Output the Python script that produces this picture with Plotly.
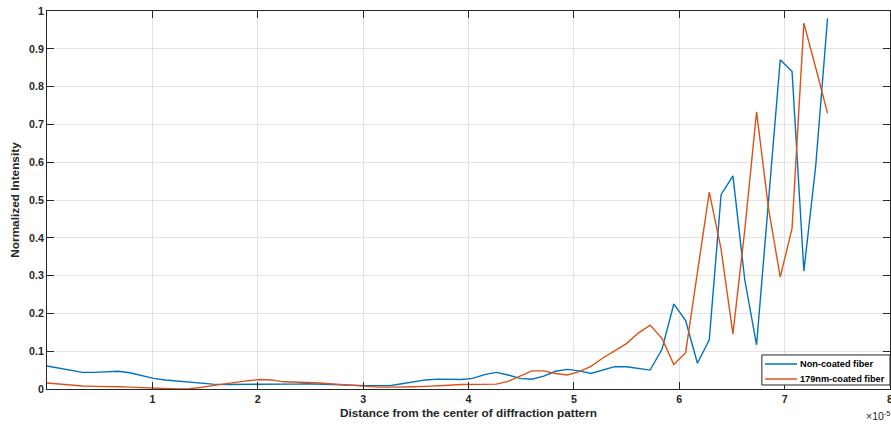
import plotly.graph_objects as go

# Distance from the centre of the diffraction pattern, micrometres
distance_um = [
    0.000, 1.122, 2.245, 3.367, 4.489, 5.612, 6.734, 7.856, 8.978, 10.101,
    11.223, 12.345, 13.468, 14.590, 15.712, 16.835, 17.957, 19.079, 20.201, 21.324,
    22.446, 23.568, 24.691, 25.813, 26.935, 28.058, 29.180, 30.302, 31.424, 32.547,
    33.669, 34.791, 35.914, 37.036, 38.158, 39.281, 40.403, 41.525, 42.647, 43.770,
    44.892, 46.014, 47.137, 48.259, 49.381, 50.504, 51.626, 52.748, 53.870, 54.993,
    56.115, 57.237, 58.360, 59.482, 60.604, 61.727, 62.849, 63.971, 65.093, 66.216,
    67.338, 68.460, 69.583, 70.705, 71.827, 72.950, 74.072,
]

# Normalized intensity, bare fibre
non_coated = [
    0.061, 0.056, 0.050, 0.044, 0.044, 0.046, 0.047, 0.043, 0.035, 0.028,
    0.024, 0.021, 0.019, 0.016, 0.013, 0.012, 0.012, 0.012, 0.012, 0.012,
    0.011, 0.013, 0.014, 0.013, 0.011, 0.010, 0.009, 0.009, 0.009, 0.009,
    0.014, 0.020, 0.024, 0.026, 0.026, 0.025, 0.028, 0.038, 0.044, 0.037,
    0.028, 0.026, 0.034, 0.047, 0.052, 0.048, 0.041, 0.049, 0.059, 0.059,
    0.054, 0.050, 0.105, 0.225, 0.181, 0.068, 0.130, 0.514, 0.564, 0.289,
    0.117, 0.500, 0.871, 0.840, 0.312, 0.590, 0.980,
]

# Normalized intensity, 179 nm coated fibre
coated_179nm = [
    0.016, 0.013, 0.010, 0.008, 0.007, 0.007, 0.006, 0.005, 0.004, 0.002,
    0.001, 0.000, 0.001, 0.004, 0.009, 0.014, 0.018, 0.022, 0.025, 0.024,
    0.019, 0.017, 0.017, 0.016, 0.014, 0.012, 0.009, 0.006, 0.005, 0.005,
    0.005, 0.006, 0.007, 0.008, 0.010, 0.012, 0.012, 0.012, 0.013, 0.020,
    0.035, 0.048, 0.048, 0.041, 0.037, 0.046, 0.060, 0.082, 0.101, 0.120,
    0.148, 0.169, 0.134, 0.065, 0.096, 0.310, 0.521, 0.370, 0.146, 0.420,
    0.733, 0.480, 0.296, 0.425, 0.968, 0.850, 0.730,
]

series_names = ["Non-coated fiber", "179nm-coated fiber"]
series_colors = ["#0072BD", "#D95319"]

x_tick_values = [1e-5, 2e-5, 3e-5, 4e-5, 5e-5, 6e-5, 7e-5, 8e-5]
x_tick_labels = ["1", "2", "3", "4", "5", "6", "7", "8"]
y_tick_values = [0, 0.1, 0.2, 0.3, 0.4, 0.5, 0.6, 0.7, 0.8, 0.9, 1]
y_tick_labels = ["0", "0.1", "0.2", "0.3", "0.4", "0.5", "0.6", "0.7", "0.8", "0.9", "1"]

distance_m = [d * 1e-6 for d in distance_um]

FONT = "Liberation Sans, Arial, Helvetica, sans-serif"
INK = "#262626"

fig = go.Figure()
for name, values, color in zip(series_names, [non_coated, coated_179nm], series_colors):
    fig.add_trace(go.Scatter(
        x=distance_m, y=values, mode="lines", name=name,
        line=dict(color=color, width=1.4), showlegend=False,
    ))

axis_common = dict(
    showline=True, linecolor=INK, linewidth=1, mirror="ticks",
    ticks="inside", ticklen=7, tickcolor=INK, tickwidth=1,
    showgrid=True, gridcolor="#e3e3e3", gridwidth=1, zeroline=False,
    automargin=False, ticklabeloverflow="allow",
    tickfont=dict(family=FONT, size=10.7, color=INK, weight="bold"),
)

# Compact boxed legend in the lower-right corner of the axes (paper units)
box_x0, box_x1, box_y0, box_y1 = 0.848, 1.0, 0.0106, 0.090
sample_x0, sample_x1, label_x = 0.8517, 0.8897, 0.891
row_y = [0.0661, 0.0265]

shapes = [dict(type="rect", xref="paper", yref="paper",
               x0=box_x0, x1=box_x1, y0=box_y0, y1=box_y1,
               line=dict(color=INK, width=1), fillcolor="white", layer="above")]
annotations = []
for name, color, yy in zip(series_names, series_colors, row_y):
    shapes.append(dict(type="line", xref="paper", yref="paper",
                       x0=sample_x0, x1=sample_x1, y0=yy, y1=yy,
                       line=dict(color=color, width=1.4), layer="above"))
    annotations.append(dict(
        text=name, xref="paper", yref="paper", x=label_x, y=yy,
        xanchor="left", yanchor="middle", showarrow=False,
        font=dict(family=FONT, size=9.2, color="#000000", weight="bold"),
    ))

annotations.append(dict(
    text="×10<sup>-5</sup>", xref="paper", yref="paper",
    x=0.969, y=-0.07, xanchor="left", yanchor="middle", showarrow=False,
    font=dict(family=FONT, size=10.5, color=INK),
))

fig.update_layout(
    width=891, height=428,
    margin=dict(l=47, r=1, t=11, b=39),
    paper_bgcolor="white", plot_bgcolor="white",
    showlegend=False,
    xaxis=dict(
        range=[0, 8e-5], tickvals=x_tick_values, ticktext=x_tick_labels,
        title=dict(text="Distance from the center of diffraction pattern",
                   font=dict(family=FONT, size=11.8, color=INK, weight="bold"),
                   standoff=4),
        **axis_common,
    ),
    yaxis=dict(
        range=[0, 1], tickvals=y_tick_values, ticktext=y_tick_labels,
        title=dict(text="Normalized Intensity",
                   font=dict(family=FONT, size=11.8, color=INK, weight="bold"),
                   standoff=6),
        **axis_common,
    ),
    shapes=shapes,
    annotations=annotations,
)

fig.write_html("out.html")
